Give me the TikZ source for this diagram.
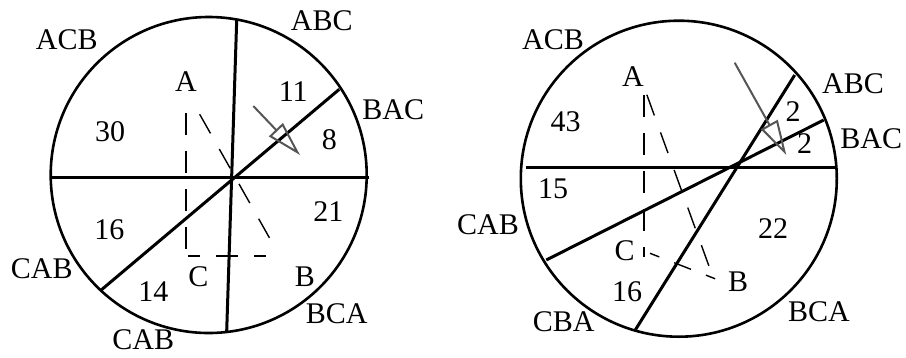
\documentclass[tikz,border=0pt]{standalone}
\usepackage{fontspec}
\setmainfont{Liberation Serif}
\usetikzlibrary{arrows.meta}
\begin{document}
\begin{tikzpicture}[x=1pt, y=-1pt, font=\fontsize{30}{36}\selectfont,
    ring/.style={line width=2.6pt},
    chord/.style={line width=3pt},
    guide/.style={line width=2.2pt, dash pattern=on 22pt off 16pt},
    sparse/.style={line width=1.4pt, dash pattern=on 22pt off 18pt},
    pointer/.style={line width=2pt, draw=arrowColour, -{Triangle[open, length=35pt, width=19pt, line width=2pt]}},
    lbl/.style={inner sep=0pt}]
    \def\radius{158pt}

    \definecolor{arrowColour}{HTML}{555555}

    \useasboundingbox (0,0) rectangle (906,357);

    % Left circle
    \coordinate (Lc) at (208.7,175);
    \draw[ring] (Lc) circle[radius=\radius];

    % Left chords
    \coordinate (LhW) at (50.7,177.3);
    \coordinate (LhE) at (369.3,177.3);
    \coordinate (LvN) at (236.7,20);
    \coordinate (LvS) at (226.7,331);
    \coordinate (LdNE) at (339.3,89.3);
    \coordinate (LdSW) at (100,291);
    \draw[chord] (LhW) -- (LhE);
    \draw[chord] (LvN) -- (LvS);
    \draw[chord] (LdNE) -- (LdSW);

    % Left triangle ABC
    \coordinate (LA) at (185.7,113);
    \coordinate (LAd) at (196.7,109);
    \coordinate (LB) at (278,253);
    \coordinate (LBh) at (270,256);
    \coordinate (LC) at (185.7,261);
    \coordinate (LCh) at (188,256);
    \draw[guide] (LA) -- (LC);
    \draw[guide, dash pattern=on 12pt off 16pt on 22pt off 16pt] (LCh) -- (LBh);
    \draw[sparse, dash phase=-6pt] (LAd) -- (LB);

    % Left pointer
    \coordinate (Lp) at (253.3,106);
    \coordinate (Lq) at (300,155);
    \draw[pointer] (Lp) -- (Lq);

    % Left labels
    \node[lbl] (lACB) at (66.7,40) {ACB};
    \node[lbl] (lABC) at (321.7,20.7) {ABC};
    \node[lbl] (lBAC) at (393.3,110) {BAC};
    \node[lbl] (lCABw) at (41.7,268.3) {CAB};
    \node[lbl] (lCABs) at (143.3,340) {CAB};
    \node[lbl] (lBCA) at (336.7,313.3) {BCA};
    \node[lbl] (lA) at (186,81.7) {A};
    \node[lbl] (lB) at (305,276.7) {B};
    \node[lbl] (lC) at (198.3,276.7) {C};
    \node[lbl] (l30) at (110,131.7) {30};
    \node[lbl] (l11) at (293.3,91.7) {11};
    \node[lbl] (l8) at (329.3,140) {8};
    \node[lbl] (l21) at (328.3,211.7) {21};
    \node[lbl] (l16) at (109.3,230) {16};
    \node[lbl] (l14) at (153.3,291.7) {14};

    % Right circle
    \coordinate (Rc) at (678.8,178.7);
    \draw[ring] (Rc) circle[radius=\radius];

    % Right chords
    \coordinate (RhW) at (525.7,167.3);
    \coordinate (RhE) at (834.7,167.3);
    \coordinate (RsN) at (794.7,75);
    \coordinate (RsS) at (635.4,329.8);
    \coordinate (RfNE) at (823.7,120);
    \coordinate (RfSW) at (546.3,260);
    \draw[chord] (RhW) -- (RhE);
    \draw[chord] (RsN) -- (RsS);
    \draw[chord] (RfNE) -- (RfSW);

    % Right triangle ABC
    \coordinate (RA) at (643.7,85);
    \coordinate (RAd) at (645.5,91);
    \coordinate (RB) at (714,280);
    \coordinate (RBh) at (718.3,280);
    \coordinate (RC) at (643.7,256.7);
    \coordinate (RCd) at (650,253.3);
    \draw[guide, dash phase=-10pt] (RA) -- (RC);
    \draw[sparse, dash phase=-4pt] (RAd) -- (RB);
    \draw[sparse, dash pattern=on 10pt off 16pt on 18pt off 16pt] (RCd) -- (RBh);

    % Right pointer
    \coordinate (Rp) at (734.7,62.7);
    \coordinate (Rq) at (786.3,155);
    \draw[pointer] (Rp) -- (Rq);

    % Right labels
    \node[lbl] (rACB) at (553,40) {ACB};
    \node[lbl] (rABC) at (853,83.3) {ABC};
    \node[lbl] (rBAC) at (871.3,138.3) {BAC};
    \node[lbl] (rCAB) at (488,225) {CAB};
    \node[lbl] (rCBA) at (563.7,321.7) {CBA};
    \node[lbl] (rBCA) at (819,311.7) {BCA};
    \node[lbl] (rA) at (633,76.7) {A};
    \node[lbl] (rB) at (738,281.7) {B};
    \node[lbl] (rC) at (624.7,250.7) {C};
    \node[lbl] (r43) at (565.7,121.7) {43};
    \node[lbl] (r2a) at (793,111.7) {2};
    \node[lbl] (r2b) at (804.7,143.3) {2};
    \node[lbl] (r15) at (553,188.3) {15};
    \node[lbl] (r22) at (773,228.3) {22};
    \node[lbl] (r16) at (627,291.7) {16};

\end{tikzpicture}
\end{document}
